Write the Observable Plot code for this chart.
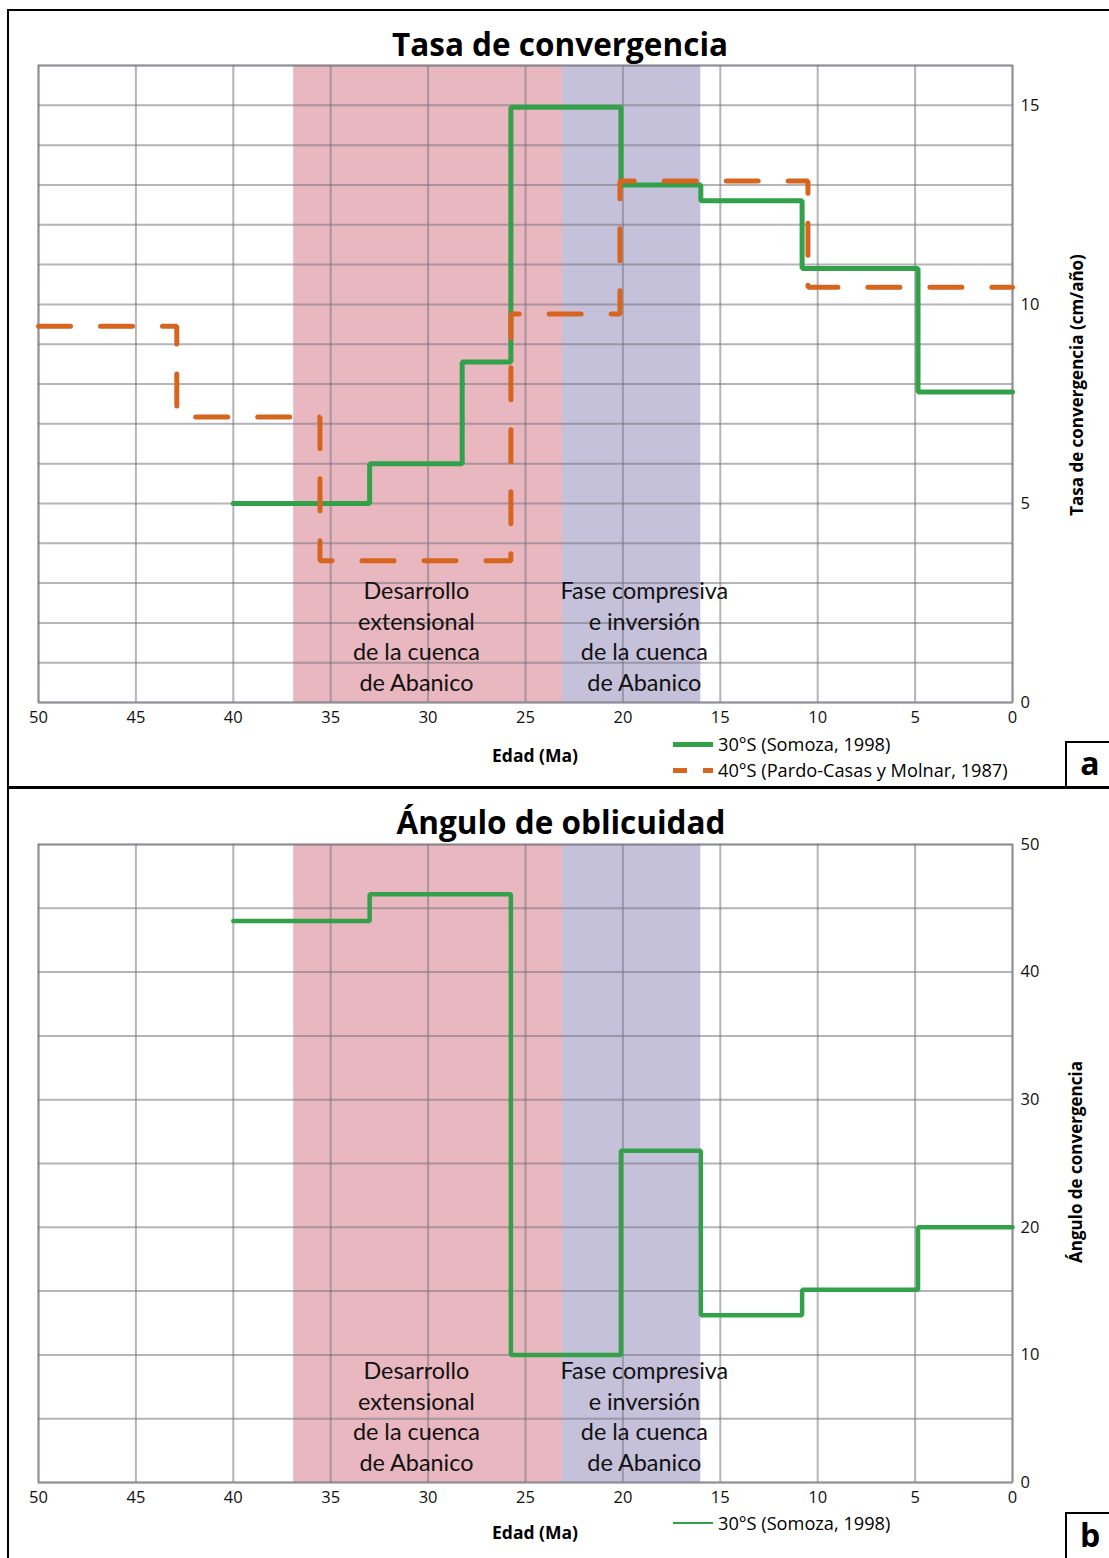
<!DOCTYPE html>
<html><head><meta charset="utf-8">
<script src="https://cdn.jsdelivr.net/npm/d3@7"></script>
<script src="https://cdn.jsdelivr.net/npm/@observablehq/plot@0.6"></script>
<style>
body{margin:0;background:#fff;font-family:"Open Sans",sans-serif;color:#000}
#wrap{position:relative;width:1109px;height:1558px;overflow:hidden;background:#fff}
.abs{position:absolute;white-space:nowrap;line-height:1}
.title{font-weight:700;font-size:31.5px;transform:translateX(-50%)}
.xlab{font-weight:700;font-size:17.5px;transform:translate(-50%,-50%)}
.ylab{font-weight:700;font-size:17px;transform:translate(-50%,-50%) rotate(-90deg)}
.leg{font-size:18.2px;transform:translateY(-50%)}
.bar{position:absolute;background:#000}
.box{position:absolute;border:2px solid #000;border-right:none;background:#fff}
.boxlab{font-weight:700;font-size:32px;transform:translate(-50%,-50%)}
.plot{position:absolute;left:0}
</style></head><body><div id="wrap">
<div id="pa" class="plot" style="top:0"></div>
<div id="pb" class="plot" style="top:789px"></div>
</div>
<script>
// ---- data ----
const ageTicks = [50, 45, 40, 35, 30, 25, 20, 15, 10, 5, 0];
const rateTicks = [0, 5, 10, 15];
const rateGrid = [0, 1, 2, 3, 4, 5, 6, 7, 8, 9, 10, 11, 12, 13, 14, 15, 16];
const angleTicks = [0, 10, 20, 30, 40, 50];
const angleGrid = [0, 5, 10, 15, 20, 25, 30, 35, 40, 45, 50];

// 30°S (Somoza, 1998) convergence rate (cm/año)
const somozaAge = [40, 33, 28.25, 25.75, 20.1, 16, 10.8, 4.85, 0];
const somozaRate = [5, 6, 8.55, 14.95, 13, 12.6, 10.9, 7.8, 7.8];
// 40°S (Pardo-Casas y Molnar, 1987) convergence rate (cm/año)
const pardoAge = [50, 42.9, 35.55, 25.75, 20.15, 10.5, 0];
const pardoRate = [9.45, 7.17, 3.56, 9.76, 13.1, 10.43, 10.43];
// 30°S (Somoza, 1998) obliquity angle
const somozaAngleAge = [40, 33, 25.75, 20.1, 16, 10.8, 4.85, 0];
const somozaAngle = [44, 46.1, 10, 26, 13.1, 15.1, 20, 20];

// tectonic phases
const phaseStart = [36.9, 23.1];
const phaseEnd = [23.1, 16];
const phaseColor = ["#e9b7bf", "#c6c1da"];
const phaseLabel = ["Desarrollo\nextensional\nde la cuenca\nde Abanico",
                    "Fase compresiva\ne inversión\nde la cuenca\nde Abanico"];
const phaseLabelAge = [30.6, 18.9];

const seriesNames = ["30°S (Somoza, 1998)", "40°S (Pardo-Casas y Molnar, 1987)"];
const GREEN = "#33a04a", ORANGE = "#d5651f";
const GRID = "#77777f";

const somoza = somozaAge.map((a, i) => ({age: a, v: somozaRate[i]}));
const pardo = pardoAge.map((a, i) => ({age: a, v: pardoRate[i]}));
const somozaB = somozaAngleAge.map((a, i) => ({age: a, v: somozaAngle[i]}));
const phases = phaseStart.map((s, i) => ({s, e: phaseEnd[i], c: phaseColor[i], label: phaseLabel[i], la: phaseLabelAge[i]}));

function makePanel({height, marginTop, marginBottom, yMax, yTicks, yGrid, lines, labelDy}) {
  return Plot.plot({
    width: 1109, height, marginLeft: 38, marginRight: 97, marginTop, marginBottom,
    style: {fontFamily: "Open Sans", fontSize: "16.5px", color: "#111", background: "transparent"},
    x: {domain: [50, 0]},
    y: {domain: [0, yMax]},
    color: {type: "identity"},
    marks: [
      Plot.rect(phases, {x1: "s", x2: "e", y1: 0, y2: yMax, fill: "c"}),
      Plot.ruleY(yGrid, {stroke: GRID, strokeOpacity: 0.55, strokeWidth: 2}),
      Plot.ruleX(ageTicks, {stroke: GRID, strokeOpacity: 0.55, strokeWidth: 2}),
      Plot.frame({stroke: GRID, strokeOpacity: 0.6, strokeWidth: 2}),
      Plot.axisX({ticks: ageTicks, tickSize: 0, tickPadding: 9, label: null, fontSize: 16.5}),
      Plot.axisY({anchor: "right", ticks: yTicks, tickSize: 0, tickPadding: 8, label: null, fontSize: 16.5}),
      ...lines,
      Plot.text(phases, {x: "la", text: "label", frameAnchor: "bottom", lineAnchor: "bottom",
        dy: labelDy, lineHeight: 1.3, fontSize: 23.4, fontFamily: "Lato", fill: "#111"})
    ]
  });
}

document.getElementById("pa").append(makePanel({
  height: 789, marginTop: 65, marginBottom: 87, yMax: 16, yTicks: rateTicks, yGrid: rateGrid, labelDy: -12,
  lines: [
    Plot.line(somoza, {x: "age", y: "v", curve: "step-after", stroke: GREEN, strokeWidth: 5, strokeLinejoin: "miter"}),
    Plot.line(pardo, {x: "age", y: "v", curve: "step-after", stroke: ORANGE, strokeWidth: 5, strokeDasharray: "32,30", strokeDashoffset: 0, strokeLinejoin: "miter"})
  ]
}));
document.getElementById("pb").append(makePanel({
  height: 769, marginTop: 55, marginBottom: 76, yMax: 50, yTicks: angleTicks, yGrid: angleGrid, labelDy: -12,
  lines: [
    Plot.line(somozaB, {x: "age", y: "v", curve: "step-after", stroke: GREEN, strokeWidth: 4.5, strokeLinejoin: "miter"})
  ]
}));

// ---- frame, titles, labels, legends (HTML) ----
const wrap = document.getElementById("wrap");
function add(cls, text, style) {
  const d = document.createElement("div");
  d.className = cls; if (text != null) d.textContent = text;
  Object.assign(d.style, style); wrap.append(d); return d;
}
add("bar", null, {left: "7px", top: "9px", width: "2px", height: "1549px"});
add("bar", null, {left: "7px", top: "9px", width: "1102px", height: "2px"});
add("bar", null, {left: "7px", top: "786px", width: "1102px", height: "3px"});
add("box", null, {left: "1065px", top: "741px", width: "50px", height: "43px"});
add("box", null, {left: "1065px", top: "1512px", width: "50px", height: "50px"});
add("abs boxlab", "a", {left: "1090px", top: "763px"});
add("abs boxlab", "b", {left: "1090px", top: "1535px"});

add("abs title", "Tasa de convergencia", {left: "560px", top: "28px"});
add("abs title", "Ángulo de oblicuidad", {left: "561px", top: "806px"});
add("abs xlab", "Edad (Ma)", {left: "535px", top: "756px"});
add("abs xlab", "Edad (Ma)", {left: "535px", top: "1533px"});
add("abs ylab", "Tasa de convergencia (cm/año)", {left: "1076px", top: "385px"});
add("abs ylab", "Ángulo de convergencia", {left: "1075px", top: "1162px"});

// legend samples
add("bar", null, {left: "673px", top: "741.5px", width: "40px", height: "5px", background: GREEN});
add("bar", null, {left: "673px", top: "767.5px", width: "14px", height: "5px", background: ORANGE});
add("bar", null, {left: "703px", top: "767.5px", width: "10px", height: "5px", background: ORANGE});
add("abs leg", seriesNames[0], {left: "718px", top: "744px"});
add("abs leg", seriesNames[1], {left: "718px", top: "770px"});
add("bar", null, {left: "673px", top: "1522px", width: "40px", height: "1.5px", background: GREEN});
add("abs leg", seriesNames[0], {left: "718px", top: "1523px"});
</script>
</body></html>
